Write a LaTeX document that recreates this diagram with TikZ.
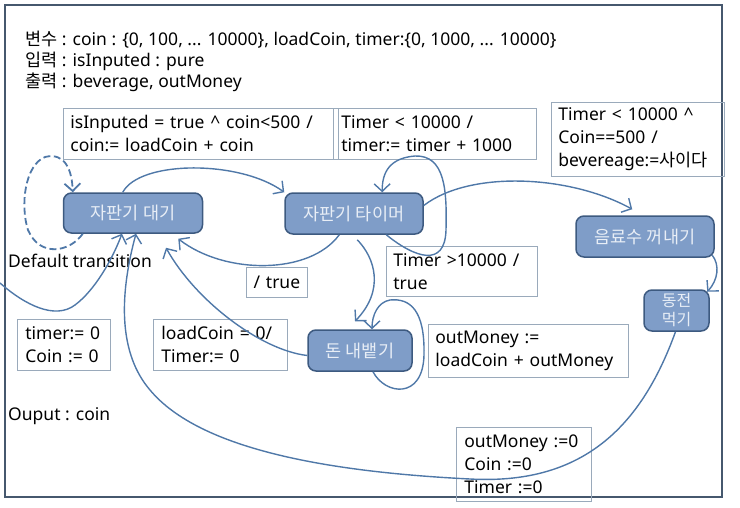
\documentclass[tikz,border=0pt]{standalone}
\usepackage{fontspec}
\setmainfont{Noto Sans}
\newfontfamily\kr{Noto Sans CJK KR}
\usetikzlibrary{arrows.meta}
\definecolor{ln}{HTML}{4F78A8}
\definecolor{stfill}{HTML}{7F9DC8}
\definecolor{stborder}{HTML}{3D5A80}
\definecolor{sttext}{HTML}{E8EEF6}
\definecolor{framec}{HTML}{46586E}
\definecolor{lblborder}{HTML}{9AAABB}
\begin{document}
\begin{tikzpicture}[x=1pt,y=-1pt,
  state/.style={draw=stborder, fill=stfill, line width=1.5pt, rounded corners=8pt,
    text=sttext, font=\kr\fontsize{17.5}{20}\selectfont, inner sep=0pt, align=center},
  lbl/.style={draw=lblborder, line width=0.8pt, anchor=north west, align=left,
    font=\fontsize{17.5}{23}\selectfont, inner xsep=7pt, inner ysep=0pt},
  tr/.style={draw=ln, line width=1.4pt, -{Straight Barb[length=7.5pt,width=16pt]}},
  plaintext/.style={font=\fontsize{17.5}{21}\selectfont, anchor=base west, inner sep=0pt},
  framebox/.style={draw=framec, line width=2pt}]
\useasboundingbox (0,0) rectangle (740,507);
\draw[framebox] (5,5) rectangle (722,497);

% header text
\node[plaintext] (t1) at (25,45) {{\kr 변수} : coin : \{0, 100, ... 10000\}, loadCoin, timer:\{0, 1000, ... 10000\}};
\node[plaintext] (t2) at (25,66) {{\kr 입력} : isInputed : pure};
\node[plaintext] (t3) at (25,87) {{\kr 출력} : beverage, outMoney};

% states
\node[state, minimum width=139pt, minimum height=40pt] (wait) at (133,213) {자판기 대기};
\node[state, minimum width=138pt, minimum height=41pt] (timer) at (354,213.5) {자판기 타이머};
\node[state, minimum width=138pt, minimum height=41pt] (drink) at (645,236.5) {음료수 꺼내기};
\node[state, minimum width=65pt, minimum height=41pt, font=\kr\fontsize{16}{19}\selectfont] (eat) at (676.5,310.5) {동전\\먹기};
\node[state, minimum width=104pt, minimum height=41pt] (spit) at (360,350.5) {돈 내뱉기};

% labels
\node[lbl, text width=261pt, minimum height=51pt] (l1) at (63,108) {isInputed = true \^{} coin<500 /\\coin:= loadCoin + coin};
\node[lbl, text width=187pt, minimum height=51pt, inner xsep=8pt] (l2) at (333,108) {Timer < 10000 /\\timer:= timer + 1000};
\node[lbl, text width=159pt, minimum height=74pt] (l3) at (551,102) {Timer < 10000 \^{}\\Coin==500 /\\bevereage:={\kr 사이다}};
\node[lbl, text width=47pt, minimum height=30pt, align=center] (l4) at (246,267) {/ true};
\node[lbl, text width=137pt, minimum height=50pt] (l5) at (386,246) {Timer >10000 /\\true};
\node[lbl, text width=77pt, minimum height=51pt, inner xsep=8pt] (l6) at (17,319) {timer:= 0\\Coin := 0};
\node[lbl, text width=118pt, minimum height=51pt, inner xsep=8pt] (l7) at (153,319) {loadCoin = 0/\\Timer:= 0};
\node[lbl, text width=186pt, minimum height=53pt] (l8) at (428,324) {outMoney :=\\loadCoin + outMoney};
\node[lbl, text width=119pt, minimum height=74pt, inner xsep=8pt] (l9) at (456,427) {outMoney :=0\\Coin :=0\\Timer :=0};

\node[plaintext] (dt) at (8,267) {Default transition};
\node[plaintext] (oc) at (8,420) {Ouput : coin};

\coordinate (ext) at (0,283);

% connectors
\draw[tr, dashed, dash pattern=on 7pt off 3.5pt, line width=1.8pt]
  ([xshift=20pt]wait.south west) .. controls (70,252) and (40,258) .. (28,230)
  .. controls (20,205) and (25,165) .. (45,157)
  .. controls (65,152) and (72,170) .. ([xshift=10pt]wait.north west);
\draw[tr] ([xshift=60pt]wait.north west) .. controls (140,160) and (240,160) .. (timer.north west);
\draw[tr] ([xshift=55pt]timer.south west) .. controls (310,275) and (225,275) .. ([xshift=-25pt,yshift=-5pt]wait.south east);
\draw[tr] ([xshift=102pt]timer.south west) .. controls (415,258) and (445,268) .. (446,230)
  .. controls (447,190) and (445,155) .. (415,156)
  .. controls (390,158) and (382,172) .. ([xshift=98pt]timer.north west);
\draw[tr] ([yshift=8pt]timer.east) .. controls (470,170) and (570,175) .. ([xshift=57pt,yshift=6pt]drink.north west);
\draw[tr] ([xshift=-2.5pt,yshift=2.5pt]drink.south east) .. controls (720,265) and (718,280) .. ([xshift=-2.5pt,yshift=-2.5pt]eat.north east);
\draw[tr] ([xshift=-1pt]eat.south) .. controls (640,430) and (580,485) .. (470,479)
  .. controls (330,472) and (200,450) .. (150,390)
  .. controls (120,355) and (118,300) .. ([xshift=3pt]wait.south);
\draw[tr] (ext) .. controls (25,305) and (55,320) .. (75,305)
  .. controls (95,290) and (112,260) .. ([xshift=-11pt]wait.south);
\draw[tr] ([yshift=-5pt]spit.west) .. controls (260,350) and (195,300) .. ([xshift=33pt,yshift=-14pt]wait.south);
\draw[tr] ([xshift=73pt,yshift=-5pt]timer.south west) .. controls (375,258) and (385,290) .. ([xshift=-5pt,yshift=8pt]spit.north);
\draw[tr] ([xshift=13pt]spit.south) .. controls (385,395) and (423,400) .. (424,355)
  .. controls (425,310) and (410,298) .. (390,300)
  .. controls (378,302) and (372,315) .. ([xshift=12pt]spit.north);
\end{tikzpicture}
\end{document}
